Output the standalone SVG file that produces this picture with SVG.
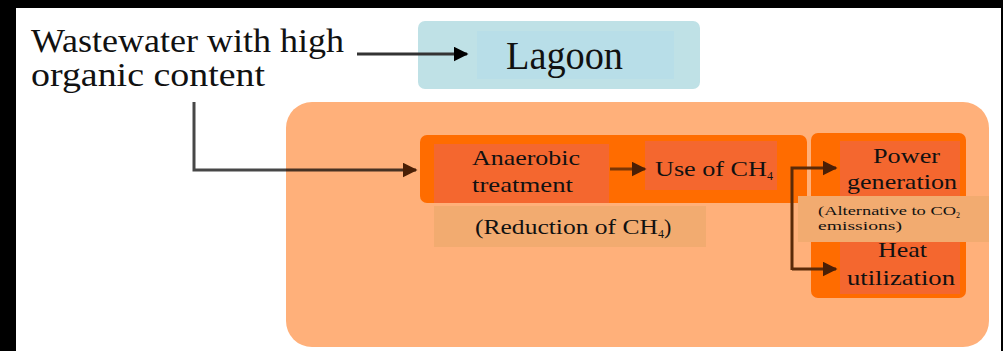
<svg xmlns="http://www.w3.org/2000/svg" width="1003" height="351" viewBox="0 0 1003 351">
<style>
.t{font-family:"Liberation Serif","DejaVu Serif",serif;fill:#111}
.big{font-size:33px}
.mid{font-size:22px}
.sm{font-size:13px}
.lbl{fill:#f2ab70}
.dk{fill:#ff6c00}
.inner{fill:#f4672f}
.conn{fill:none;stroke-width:3}
</style>
<defs>
<marker id="ah" viewBox="0 0 10 10" refX="9" refY="5" markerWidth="5" markerHeight="5" orient="auto" markerUnits="strokeWidth">
<path d="M0,0 L10,5 L0,10 Z" fill="context-stroke"/>
</marker>
<marker id="ahb" viewBox="0 0 10 10" refX="9" refY="5" markerWidth="5" markerHeight="5" orient="auto" markerUnits="strokeWidth">
<path d="M0,0 L10,5 L0,10 Z" fill="#4a1f05"/>
</marker>
<marker id="ahk" viewBox="0 0 10 10" refX="9" refY="5" markerWidth="5" markerHeight="5" orient="auto" markerUnits="strokeWidth">
<path d="M0,0 L10,5 L0,10 Z" fill="#000"/>
</marker>
</defs>
<rect x="0" y="0" width="1003" height="351" fill="#fff"/>
<rect x="0" y="0" width="1003" height="8" fill="#000"/>
<rect x="0" y="0" width="16" height="351" fill="#000"/>
<rect x="1001" y="0" width="2" height="351" fill="#000"/>

<g id="source">
<text class="t big" x="31" y="52" textLength="313" lengthAdjust="spacingAndGlyphs">Wastewater with high</text>
<text class="t big" x="31" y="86" textLength="234" lengthAdjust="spacingAndGlyphs">organic content</text>
</g>

<g id="lagoon">
<rect x="418" y="21" width="282" height="68" rx="7" fill="#bfe1e6"/>
<rect x="477" y="31" width="197" height="48" fill="#b8dee8"/>
<text class="t" style="font-size:40px" x="506" y="69" textLength="117" lengthAdjust="spacingAndGlyphs">Lagoon</text>
</g>

<g id="system">
<rect x="286" y="102" width="703" height="245" rx="26" fill="#ffb07a"/>
</g>

<g id="anaerobic">
<rect x="420" y="135" width="387" height="68" rx="7" class="dk"/>
<rect x="434" y="144" width="175" height="59" class="inner"/>
<text class="t mid" x="472" y="165" textLength="108" lengthAdjust="spacingAndGlyphs">Anaerobic</text>
<text class="t mid" x="472" y="192" textLength="101" lengthAdjust="spacingAndGlyphs">treatment</text>
</g>

<g id="reduction">
<rect x="434" y="206" width="272" height="41" class="lbl"/>
<text class="t mid" x="475" y="234"><tspan textLength="183" lengthAdjust="spacingAndGlyphs">(Reduction of CH</tspan><tspan font-size="12" dy="4">4</tspan><tspan dy="-4">)</tspan></text>
</g>

<g id="use">
<rect x="645" y="141" width="132" height="49" class="inner"/>
<text class="t mid" x="655" y="176"><tspan textLength="112" lengthAdjust="spacingAndGlyphs">Use of CH</tspan><tspan font-size="12" dy="4">4</tspan></text>
</g>

<g id="outputs">
<rect x="811" y="133" width="155" height="165" rx="7" class="dk"/>
</g>

<g id="power">
<rect x="840" y="141" width="120" height="58" class="inner"/>
<text class="t mid" x="873" y="163" textLength="67" lengthAdjust="spacingAndGlyphs">Power</text>
<text class="t mid" x="847" y="189" textLength="110" lengthAdjust="spacingAndGlyphs">generation</text>
</g>

<g id="heat">
<rect x="840" y="240" width="120" height="54" class="inner"/>
<text class="t mid" x="878" y="257" textLength="49" lengthAdjust="spacingAndGlyphs">Heat</text>
<text class="t mid" x="847" y="285" textLength="108" lengthAdjust="spacingAndGlyphs">utilization</text>
</g>

<g id="alternative">
<rect x="798" y="196" width="191" height="46" class="lbl"/>
<text class="t sm" x="818" y="215"><tspan textLength="138" lengthAdjust="spacingAndGlyphs">(Alternative to CO</tspan><tspan font-size="8" dy="3">2</tspan></text>
<text class="t sm" x="818" y="230" textLength="84" lengthAdjust="spacingAndGlyphs">emissions)</text>
</g>

<g id="connectors">
<path class="conn" d="M357,54 H467" stroke="#333" marker-end="url(#ahk)"/>
<path class="conn" d="M194,102 V170 H416" stroke="#000" stroke-opacity="0.72" marker-end="url(#ahb)"/>
<path class="conn" d="M610,169 H645" stroke="#7a3605" marker-end="url(#ahb)"/>
<path class="conn" d="M792,270 V168 H836" stroke="#5a2a08" marker-end="url(#ahb)"/>
<path class="conn" d="M792,269 H836" stroke="#5a2a08" marker-end="url(#ahb)"/>
</g>
</svg>
